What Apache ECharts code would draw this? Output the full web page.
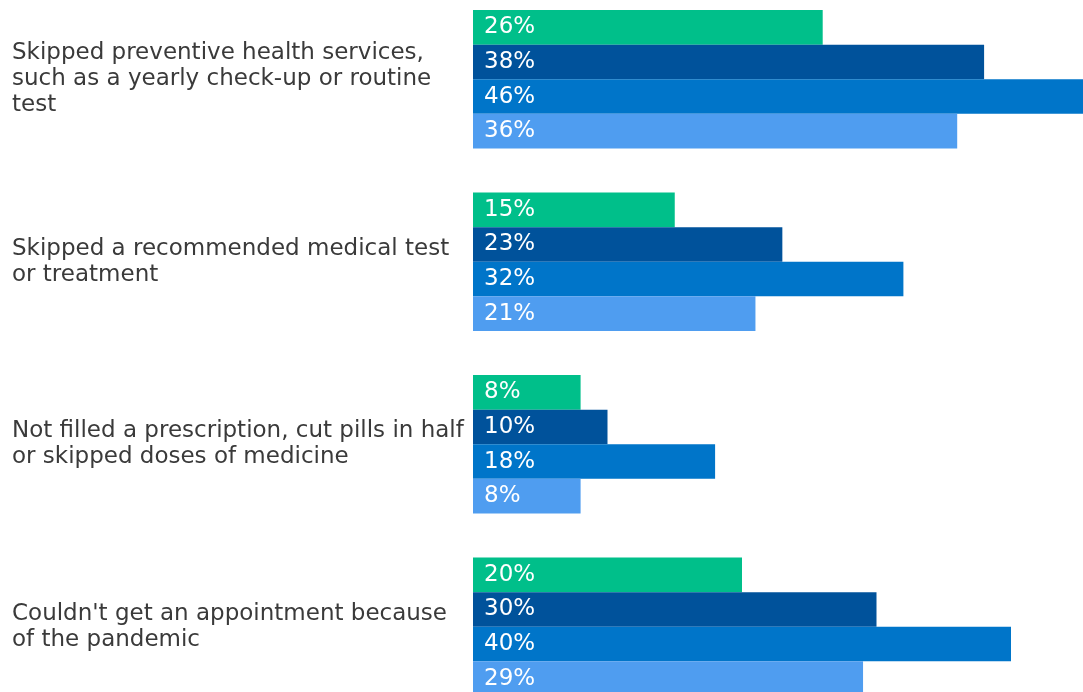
<!DOCTYPE html>
<html>
<head>
<meta charset="utf-8">
<style>
  html, body { margin: 0; padding: 0; background: #ffffff; }
  #chart { width: 1083px; height: 692px; }
</style>
<script src="https://cdn.jsdelivr.net/npm/echarts@6/dist/echarts.min.js"></script>
</head>
<body>
<div id="chart"></div>
<script>
// Care delayed or skipped, share of respondents by group
const categories = [
  "Skipped preventive health services,\nsuch as a yearly check-up or routine\ntest",
  "Skipped a recommended medical test\nor treatment",
  "Not filled a prescription, cut pills in half\nor skipped doses of medicine",
  "Couldn't get an appointment because\nof the pandemic"
];
const seriesA = [26, 15, 8, 20];
const seriesB = [38, 23, 10, 30];
const seriesC = [46, 32, 18, 40];
const seriesD = [36, 21, 8, 29];

const colors = ["#00BF8A", "#00529B", "#0075C9", "#4F9DF0"];
const font = "'DejaVu Sans', 'Liberation Sans', sans-serif";

function makeSeries(values, color) {
  return {
    type: "bar",
    data: values,
    barWidth: 34.6,
    barGap: "0%",
    clip: false,
    itemStyle: { color: color },
    label: {
      show: true,
      position: "insideLeft",
      distance: 11,
      formatter: "{c}%",
      color: "#ffffff",
      fontFamily: font,
      fontSize: 23
    }
  };
}

const chart = echarts.init(document.getElementById("chart"), null, { renderer: "canvas" });
chart.setOption({
  animation: false,
  grid: {
    left: 473, top: -12, width: 1345, height: 730,
    outerBoundsMode: "none",
    containLabel: false
  },
  xAxis: {
    type: "value",
    min: 0,
    max: 100,
    show: false
  },
  yAxis: {
    type: "category",
    data: categories,
    inverse: true,
    axisLine: { show: false },
    axisTick: { show: false },
    axisLabel: {
      align: "left",
      margin: 461,
      color: "#3a3a3a",
      fontFamily: font,
      fontSize: 23,
      lineHeight: 26
    }
  },
  series: [
    makeSeries(seriesA, colors[0]),
    makeSeries(seriesB, colors[1]),
    makeSeries(seriesC, colors[2]),
    makeSeries(seriesD, colors[3])
  ]
});
</script>
</body>
</html>
